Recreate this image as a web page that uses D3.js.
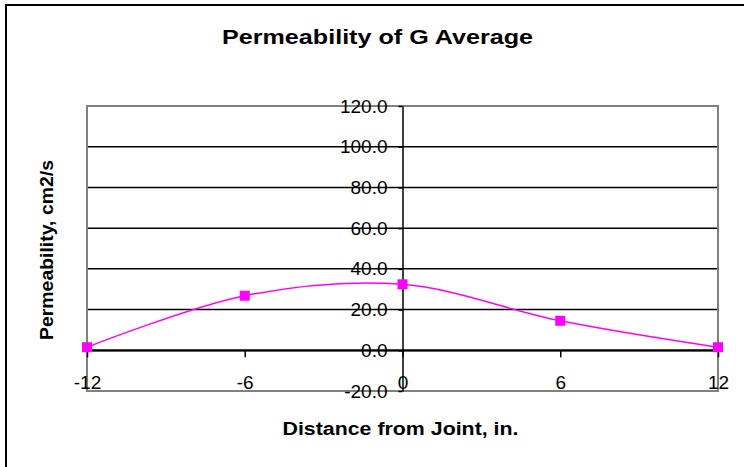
<!DOCTYPE html>
<html lang="en">
<head>
  <meta charset="UTF-8" />
  <title>Permeability of G Average</title>
  <script src="https://d3js.org/d3.v7.min.js"></script>
  <style>
    body { margin: 0; background: #fff; }
    svg { display: block; font-family: "Liberation Sans", Arial, sans-serif; }
    .axis text { font-size: 19px; fill: #000; }
    .axis path, .axis line { stroke: #000; stroke-width: 1.5px; }
  </style>
</head>
<body>

<svg width="744" height="467"></svg>

<script>
  // Données
  const distances = [-12, -6, 0, 6, 12];
  const permeability = [1.5, 26.8, 32.4, 14.5, 1.5];
  const xTicks = [-12, -6, 0, 6, 12];
  const yTicks = [-20, 0, 20, 40, 60, 80, 100, 120];
  const gridValues = [0, 20, 40, 60, 80, 100];

  const svg = d3.select("svg");

  const plot = { left: 87, right: 718, top: 106, bottom: 391 };

  const x = d3.scaleLinear().domain([-12, 12]).range([plot.left, plot.right]);
  const y = d3.scaleLinear().domain([-20, 120]).range([plot.bottom, plot.top]);

  // Cadre extérieur
  svg.append("rect")
    .attr("x", 6).attr("y", 5)
    .attr("width", 800).attr("height", 500)
    .attr("fill", "none")
    .attr("stroke", "#000")
    .attr("stroke-width", 2);

  // Quadrillage
  svg.append("g")
    .selectAll("line")
    .data(gridValues)
    .join("line")
    .attr("x1", plot.left).attr("x2", plot.right)
    .attr("y1", d => y(d)).attr("y2", d => y(d))
    .attr("stroke", "#000")
    .attr("stroke-width", d => d === 0 ? 2 : 1.5);

  // Bordure zone de tracé
  svg.append("rect")
    .attr("x", plot.left).attr("y", plot.top)
    .attr("width", plot.right - plot.left)
    .attr("height", plot.bottom - plot.top)
    .attr("fill", "none")
    .attr("stroke", "#808080")
    .attr("stroke-width", 2);

  // Axe Y (croise à x = 0)
  svg.append("g")
    .attr("class", "axis")
    .attr("transform", `translate(${x(0)},0)`)
    .call(d3.axisLeft(y).tickValues(yTicks).tickFormat(d => d.toFixed(1)).tickSize(4).tickSizeOuter(0).tickPadding(11));

  // Axe X (croise à y = 0)
  const xAxis = svg.append("g")
    .attr("class", "axis")
    .attr("transform", `translate(0,${y(0)})`)
    .call(d3.axisBottom(x).tickValues(xTicks).tickFormat(d => String(d)).tickSize(7).tickSizeOuter(0).tickPadding(18));
  xAxis.select(".domain").attr("stroke-width", 2);

  // Courbe lissée
  const line = d3.line()
    .x((d, i) => x(distances[i]))
    .y(d => y(d))
    .curve(d3.curveCardinal.tension(0));

  svg.append("path")
    .datum(permeability)
    .attr("d", line)
    .attr("fill", "none")
    .attr("stroke", "#ff00ff")
    .attr("stroke-width", 1.5);

  // Marqueurs carrés
  svg.append("g")
    .selectAll("rect")
    .data(permeability)
    .join("rect")
    .attr("x", (d, i) => x(distances[i]) - 5)
    .attr("y", d => y(d) - 5)
    .attr("width", 10).attr("height", 10)
    .attr("fill", "#ff00ff");

  // Titres
  svg.append("text")
    .attr("x", 377.5).attr("y", 44)
    .attr("text-anchor", "middle")
    .attr("textLength", 311).attr("lengthAdjust", "spacingAndGlyphs")
    .style("font-size", "20px").style("font-weight", "bold")
    .text("Permeability of G Average");

  svg.append("text")
    .attr("x", 400.5).attr("y", 435)
    .attr("text-anchor", "middle")
    .attr("textLength", 236).attr("lengthAdjust", "spacingAndGlyphs")
    .style("font-size", "18px").style("font-weight", "bold")
    .text("Distance from Joint, in.");

  svg.append("text")
    .attr("transform", "translate(53,250) rotate(-90)")
    .attr("text-anchor", "middle")
    .attr("textLength", 180).attr("lengthAdjust", "spacingAndGlyphs")
    .style("font-size", "18px").style("font-weight", "bold")
    .text("Permeability, cm2/s");
</script>

</body>
</html>
